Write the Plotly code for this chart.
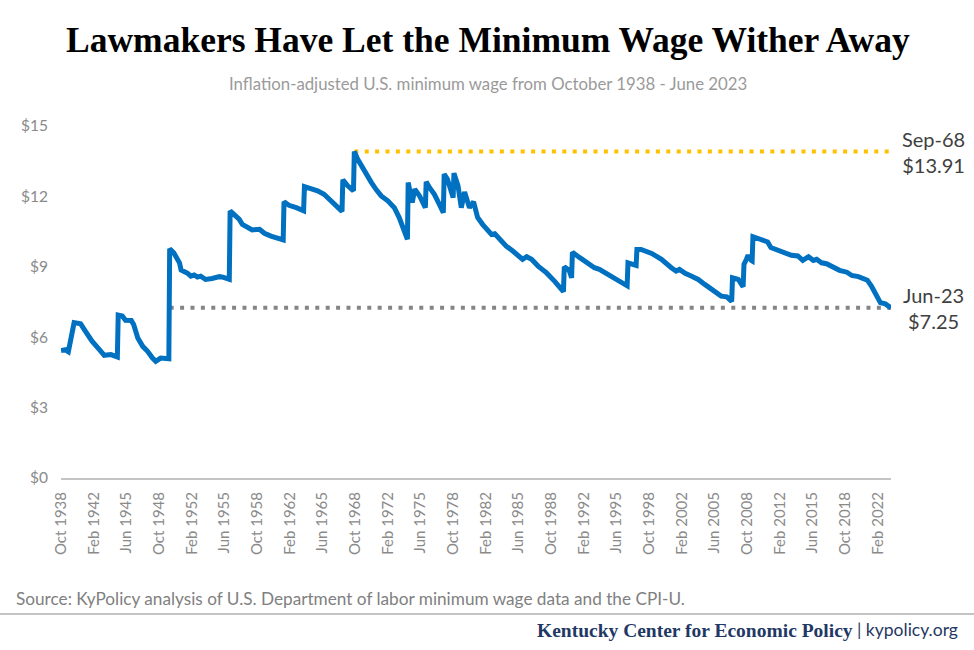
import plotly.graph_objects as go
import pandas as pd

# ---- Data ----
dates = [
    "1938-10", "1939-04", "1939-06", "1939-07", "1940-02", "1940-10", "1941-04", "1941-12",
    "1942-09", "1943-03", "1943-11", "1944-07", "1944-08", "1945-01", "1945-05", "1945-12",
    "1946-03", "1946-08", "1947-02", "1947-08", "1948-02", "1948-06", "1948-12", "1949-09",
    "1949-10", "1949-11", "1950-04", "1950-11", "1951-01", "1951-09", "1952-01", "1952-05",
    "1952-09", "1953-01", "1953-07", "1954-03", "1954-12", "1955-04", "1955-09", "1955-12",
    "1956-01", "1956-06", "1956-12", "1957-04", "1957-10", "1958-04", "1959-01", "1959-07",
    "1960-03", "1960-11", "1961-05", "1961-06", "1961-07", "1962-01", "1962-10", "1963-06",
    "1963-07", "1963-08", "1964-04", "1964-12", "1965-08", "1966-02", "1966-09", "1967-05",
    "1967-06", "1967-07", "1968-01", "1968-08", "1968-09", "1969-01", "1969-09", "1970-06",
    "1970-12", "1971-06", "1972-02", "1972-10", "1973-04", "1973-10", "1974-02", "1974-03",
    "1974-08", "1974-11", "1975-05", "1975-12", "1976-01", "1976-05", "1976-11", "1977-05",
    "1977-10", "1977-11", "1978-03", "1978-10", "1978-11", "1979-04", "1979-08", "1979-12",
    "1980-06", "1980-11", "1981-04", "1981-10", "1982-04", "1982-09", "1983-01", "1983-07",
    "1984-03", "1984-11", "1985-07", "1985-11", "1986-04", "1986-10", "1987-06", "1988-04",
    "1989-02", "1990-01", "1990-02", "1990-08", "1990-11", "1990-12", "1991-09", "1992-07",
    "1993-03", "1993-09", "1994-08", "1995-06", "1996-06", "1996-07", "1996-08", "1997-06",
    "1997-07", "1997-12", "1999-01", "2000-01", "2001-01", "2001-07", "2001-11", "2002-06",
    "2003-02", "2003-10", "2004-06", "2005-04", "2006-02", "2006-09", "2007-03", "2007-04",
    "2007-11", "2008-05", "2008-06", "2008-09", "2008-11", "2009-03", "2009-04", "2009-05",
    "2009-11", "2010-07", "2010-11", "2011-03", "2011-10", "2012-04", "2012-10", "2013-04",
    "2013-12", "2014-06", "2015-01", "2015-07", "2015-11", "2016-05", "2016-11", "2017-07",
    "2018-03", "2018-12", "2019-06", "2020-02", "2020-08", "2021-01", "2021-06", "2021-12",
    "2022-05", "2022-11", "2023-06",
]
real_wage = [
    5.43, 5.47, 5.40, 5.38, 6.62, 6.57, 6.25, 5.83,
    5.47, 5.23, 5.26, 5.16, 6.94, 6.90, 6.72, 6.71,
    6.54, 5.97, 5.61, 5.40, 5.11, 4.97, 5.11, 5.09,
    5.08, 9.77, 9.60, 9.17, 8.86, 8.72, 8.60, 8.65,
    8.56, 8.60, 8.46, 8.50, 8.58, 8.56, 8.49, 8.47,
    11.38, 11.20, 11.03, 10.81, 10.71, 10.57, 10.60, 10.43,
    10.31, 10.20, 10.17, 10.15, 11.77, 11.62, 11.52, 11.41,
    11.39, 12.42, 12.34, 12.24, 12.09, 11.88, 11.62, 11.38,
    11.36, 12.71, 12.45, 12.24, 13.91, 13.59, 13.09, 12.59,
    12.28, 12.02, 11.81, 11.52, 11.10, 10.60, 10.17, 12.59,
    11.74, 12.31, 12.02, 11.52, 12.62, 12.38, 12.09, 11.67,
    11.31, 12.95, 12.74, 11.95, 12.99, 12.45, 11.52, 12.19,
    11.52, 11.77, 11.10, 10.81, 10.53, 10.38, 10.41, 10.17,
    9.88, 9.67, 9.46, 9.32, 9.43, 9.32, 9.03, 8.75,
    8.39, 7.94, 9.00, 8.85, 8.53, 9.62, 9.39, 9.15,
    8.96, 8.89, 8.68, 8.46, 8.21, 8.19, 9.17, 9.06,
    9.74, 9.74, 9.57, 9.32, 8.96, 8.82, 8.89, 8.72,
    8.60, 8.46, 8.25, 8.03, 7.75, 7.72, 7.53, 8.53,
    8.46, 8.15, 9.10, 9.32, 9.49, 9.27, 9.25, 10.28,
    10.20, 10.14, 10.06, 9.82, 9.74, 9.63, 9.60, 9.49,
    9.46, 9.27, 9.43, 9.27, 9.32, 9.17, 9.13, 8.99,
    8.85, 8.77, 8.63, 8.58, 8.50, 8.43, 8.18, 7.82,
    7.47, 7.42, 7.25,
]

peak_date, peak_value, peak_label = "1968-09", 13.91, "Sep-68"
gray_start = "1949-11"
last_date, last_value, last_label = "2023-06", 7.25, "Jun-23"

tick_labels = [
    "Oct 1938", "Feb 1942", "Jun 1945", "Oct 1948", "Feb 1952", "Jun 1955", "Oct 1958",
    "Feb 1962", "Jun 1965", "Oct 1968", "Feb 1972", "Jun 1975", "Oct 1978", "Feb 1982",
    "Jun 1985", "Oct 1988", "Feb 1992", "Jun 1995", "Oct 1998", "Feb 2002", "Jun 2005",
    "Oct 2008", "Feb 2012", "Jun 2015", "Oct 2018", "Feb 2022",
]
y_ticks = [0, 3, 6, 9, 12, 15]
y_tick_labels = ["$0", "$3", "$6", "$9", "$12", "$15"]

tick_vals = [pd.to_datetime(t, format="%b %Y") for t in tick_labels]

# ---- Figure ----
W, H = 974, 650
ML, MR, MT, MB = 61, 83, 126, 172
PW = W - ML - MR
PH = H - MT - MB


def px_x(px):
    return (px - ML) / PW


def px_y(py):
    return (H - MB - py) / PH


fig = go.Figure()

fig.add_trace(go.Scatter(
    x=[peak_date, last_date], y=[peak_value, peak_value], mode="lines",
    line=dict(color="#FFC000", width=4, dash="4px,6.4px"), hoverinfo="skip",
))
fig.add_trace(go.Scatter(
    x=[gray_start, last_date], y=[last_value, last_value], mode="lines",
    line=dict(color="#858585", width=4, dash="4px,6.4px"), hoverinfo="skip",
))
fig.add_trace(go.Scatter(
    x=dates, y=real_wage, mode="lines",
    line=dict(color="#0070C0", width=5, shape="linear"),
))

sans = "Lato"
fig.update_layout(
    width=W, height=H,
    margin=dict(l=ML, r=MR, t=MT, b=MB),
    paper_bgcolor="white", plot_bgcolor="white",
    showlegend=False,
    font=dict(family=sans, color="#808080"),
    xaxis=dict(
        type="date",
        range=[dates[0], last_date],
        tickmode="array", tickvals=tick_vals, ticktext=tick_labels,
        tickangle=-90, tickfont=dict(size=15, color="#8a8a8a", family=sans),
        showgrid=False, zeroline=False,
        showline=True, linecolor="#c4c4c4", linewidth=2,
        ticks="", ticklabelstandoff=6,
    ),
    yaxis=dict(
        range=[0, 15],
        tickmode="array", tickvals=y_ticks, ticktext=y_tick_labels,
        tickfont=dict(size=15.5, color="#8a8a8a", family=sans),
        showgrid=False, zeroline=False, showline=False,
        ticks="", ticklabelstandoff=12,
    ),
)

annotations = [
    dict(text="<b>Lawmakers Have Let the Minimum Wage Wither Away</b>",
         x=px_x(488), y=px_y(40), font=dict(family="Liberation Serif", size=35.5, color="#000000")),
    dict(text="Inflation-adjusted U.S. minimum wage from October 1938 - June 2023",
         x=px_x(488), y=px_y(84), font=dict(family=sans, size=16.8, color="#9a9a9a")),
    dict(text=f"{peak_label}<br>${peak_value:.2f}", xref="paper", yref="y",
         x=px_x(933), y=peak_value, font=dict(family=sans, size=20, color="#404040")),
    dict(text=f"{last_label}<br>${last_value:.2f}", xref="paper", yref="y",
         x=px_x(933), y=last_value, font=dict(family=sans, size=20, color="#404040")),
    dict(text="Source: KyPolicy analysis of U.S. Department of labor minimum wage data and the CPI-U.",
         x=px_x(14), y=px_y(598), xanchor="left", font=dict(family=sans, size=17.2, color="#808080")),
    dict(text="<b>Kentucky Center for Economic Policy</b>",
         x=px_x(855), y=px_y(630), xanchor="right",
         font=dict(family="Liberation Serif", size=19.5, color="#1F3864")),
    dict(text="| kypolicy.org",
         x=px_x(960), y=px_y(629), xanchor="right",
         font=dict(family=sans, size=17.5, color="#1F3864")),
]
for a in annotations:
    a.setdefault("xref", "paper")
    a.setdefault("yref", "paper")
    a.setdefault("xanchor", "center")
    a.setdefault("yanchor", "middle")
    a["showarrow"] = False
fig.update_layout(annotations=annotations)

fig.add_shape(type="line", xref="paper", yref="paper",
              x0=px_x(0), x1=px_x(W), y0=px_y(614), y1=px_y(614),
              line=dict(color="#c4c4c4", width=2))

fig.write_html("out.html")
